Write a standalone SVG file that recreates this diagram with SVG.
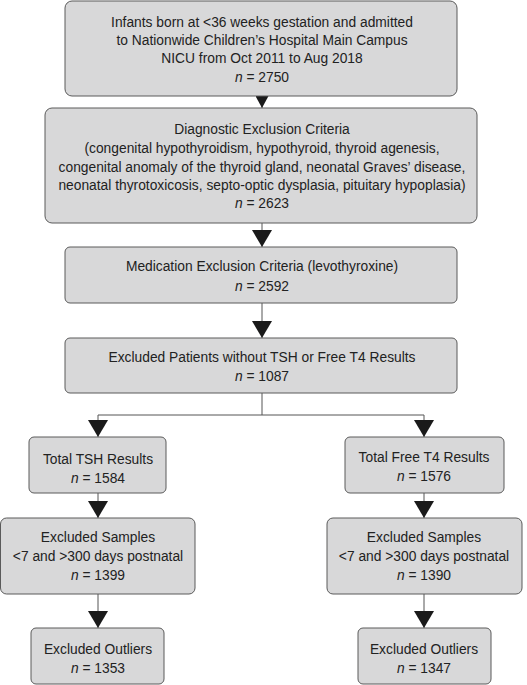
<svg xmlns="http://www.w3.org/2000/svg" width="527" height="685" viewBox="0 0 527 685">
<defs>
<style>
.box{fill:#d8d8d9;stroke:#5a5a5a;stroke-width:1}
.t{font-family:"Liberation Sans",Arial,sans-serif;font-size:13.8px;fill:#222;text-anchor:middle}
.c{stroke:#555;stroke-width:1;fill:none}
</style>
<marker id="ah" viewBox="0 0 17 20" refX="17" refY="10" markerWidth="17" markerHeight="20" markerUnits="userSpaceOnUse" orient="auto"><path d="M0,0 L17,10 L0,20 Z" fill="#1a1a1a"/></marker>
<marker id="ahs" viewBox="0 0 12 13" refX="12" refY="6.5" markerWidth="12" markerHeight="13" markerUnits="userSpaceOnUse" orient="auto"><path d="M0,0 L12,6.5 L0,13 Z" fill="#1a1a1a"/></marker>
</defs>
<rect width="527" height="685" fill="#fff"/>
<g id="connectors">
<line class="c" x1="262" y1="96" x2="262" y2="108" marker-end="url(#ahs)"/>
<line class="c" x1="262" y1="223" x2="262" y2="247" marker-end="url(#ah)"/>
<line class="c" x1="262" y1="303" x2="262" y2="338" marker-end="url(#ah)"/>
<path class="c" d="M262,393 V415 M98,415 H424"/>
<line class="c" x1="98" y1="415" x2="98" y2="437" marker-end="url(#ah)"/>
<line class="c" x1="424" y1="415" x2="424" y2="437" marker-end="url(#ah)"/>
<line class="c" x1="98" y1="493" x2="98" y2="518" marker-end="url(#ah)"/>
<line class="c" x1="424" y1="493" x2="424" y2="518" marker-end="url(#ah)"/>
<line class="c" x1="98" y1="594" x2="98" y2="628" marker-end="url(#ah)"/>
<line class="c" x1="424" y1="594" x2="424" y2="628" marker-end="url(#ah)"/>
</g>
<g id="n1">
<rect class="box" x="65" y="1" width="392" height="95" rx="7"/>
<text class="t" x="262" y="27">Infants born at &lt;36 weeks gestation and admitted</text>
<text class="t" x="262" y="45">to Nationwide Children’s Hospital Main Campus</text>
<text class="t" x="262" y="63">NICU from Oct 2011 to Aug 2018</text>
<text class="t" x="262" y="81.5"><tspan font-style="italic">n</tspan> = 2750</text>
</g>
<g id="n2">
<rect class="box" x="45" y="108" width="432" height="115" rx="7"/>
<text class="t" x="262" y="134">Diagnostic Exclusion Criteria</text>
<text class="t" x="262" y="153">(congenital hypothyroidism, hypothyroid, thyroid agenesis,</text>
<text class="t" x="262" y="171.5">congenital anomaly of the thyroid gland, neonatal Graves’ disease,</text>
<text class="t" x="262" y="190">neonatal thyrotoxicosis, septo-optic dysplasia, pituitary hypoplasia)</text>
<text class="t" x="262" y="208"><tspan font-style="italic">n</tspan> = 2623</text>
</g>
<g id="n3">
<rect class="box" x="65" y="247" width="392" height="56" rx="5"/>
<text class="t" x="262" y="271">Medication Exclusion Criteria (levothyroxine)</text>
<text class="t" x="262" y="291"><tspan font-style="italic">n</tspan> = 2592</text>
</g>
<g id="n4">
<rect class="box" x="65" y="338" width="392" height="55" rx="5"/>
<text class="t" x="262" y="362">Excluded Patients without TSH or Free T4 Results</text>
<text class="t" x="262" y="381"><tspan font-style="italic">n</tspan> = 1087</text>
</g>
<g id="n5">
<rect class="box" x="29" y="437" width="137" height="56" rx="5"/>
<text class="t" x="98" y="464">Total TSH Results</text>
<text class="t" x="98" y="483"><tspan font-style="italic">n</tspan> = 1584</text>
</g>
<g id="n6">
<rect class="box" x="345" y="437" width="159" height="56" rx="5"/>
<text class="t" x="424" y="462">Total Free T4 Results</text>
<text class="t" x="424" y="481"><tspan font-style="italic">n</tspan> = 1576</text>
</g>
<g id="n7">
<rect class="box" x="0.5" y="518" width="194.5" height="76" rx="6"/>
<text class="t" x="98" y="542">Excluded Samples</text>
<text class="t" x="98" y="561">&lt;7 and &gt;300 days postnatal</text>
<text class="t" x="98" y="580"><tspan font-style="italic">n</tspan> = 1399</text>
</g>
<g id="n8">
<rect class="box" x="327" y="518" width="195" height="76" rx="6"/>
<text class="t" x="424" y="542">Excluded Samples</text>
<text class="t" x="424" y="561">&lt;7 and &gt;300 days postnatal</text>
<text class="t" x="424" y="580"><tspan font-style="italic">n</tspan> = 1390</text>
</g>
<g id="n9">
<rect class="box" x="31" y="628" width="133" height="56" rx="5"/>
<text class="t" x="98" y="654">Excluded Outliers</text>
<text class="t" x="98" y="672.5"><tspan font-style="italic">n</tspan> = 1353</text>
</g>
<g id="n10">
<rect class="box" x="358" y="628" width="133" height="56" rx="5"/>
<text class="t" x="424" y="654">Excluded Outliers</text>
<text class="t" x="424" y="672.5"><tspan font-style="italic">n</tspan> = 1347</text>
</g>
</svg>
